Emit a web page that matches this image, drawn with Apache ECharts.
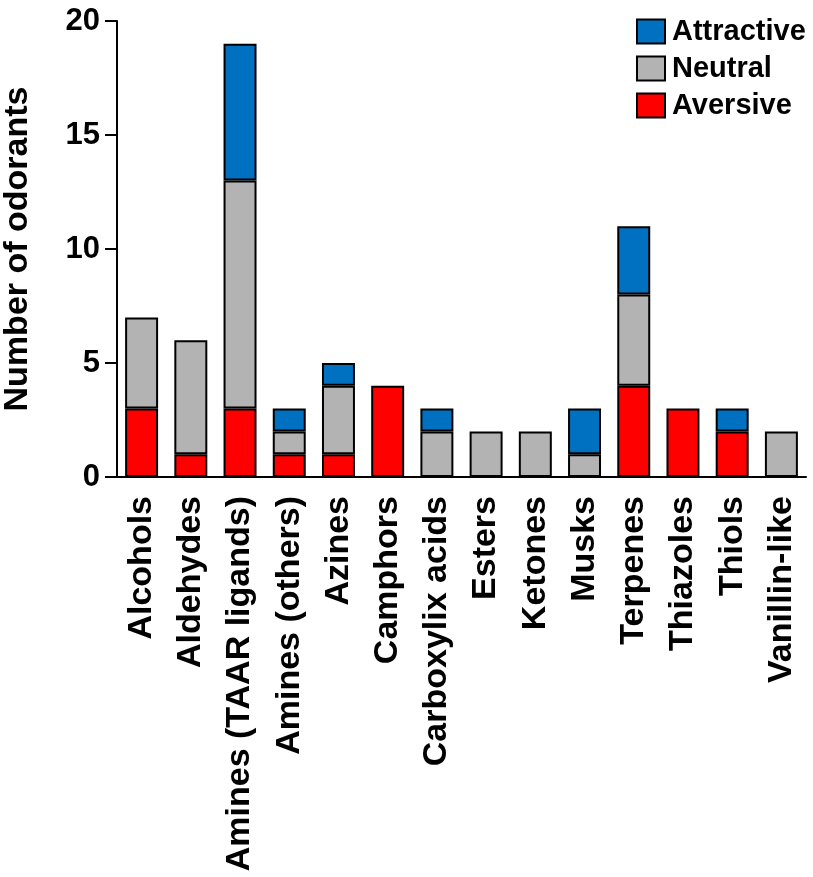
<!DOCTYPE html>
<html>
<head>
<meta charset="utf-8">
<script src="https://cdn.jsdelivr.net/npm/echarts@6/dist/echarts.min.js"></script>
<style>
  html, body { margin: 0; padding: 0; background: #fff; }
  #chart { width: 813px; height: 877px; }
</style>
</head>
<body>
<div id="chart"></div>
<script>
// categories
var categories = ['Alcohols', 'Aldehydes', 'Amines (TAAR ligands)', 'Amines (others)', 'Azines',
  'Camphors', 'Carboxylix acids', 'Esters', 'Ketones', 'Musks', 'Terpenes', 'Thiazoles', 'Thiols', 'Vanillin-like']
// stacked counts
var aversive   = [3, 1, 3, 1, 1, 4, 0, 0, 0, 0, 4, 3, 2, 0]
var neutral    = [4, 5, 10, 1, 3, 0, 2, 2, 2, 1, 4, 0, 0, 2]
var attractive = [0, 0, 6, 1, 1, 0, 1, 0, 0, 2, 3, 0, 1, 0]
var yTicks = [0, 5, 10, 15, 20]

var font = 'Liberation Sans, Arial, sans-serif'
var mychart = echarts.init(document.getElementById('chart'))

function barSeries (name, data, color) {
  return {
    name: name,
    type: 'bar',
    stack: 'total',
    barWidth: '67%',
    data: data.map(function (v) { return v === 0 ? null : v }),
    itemStyle: { color: color, borderColor: '#000', borderWidth: 2 },
    emphasis: { disabled: true }
  }
}

var option = {
  animation: false,
  grid: { left: 117, right: 7, top: 21, bottom: 400, containLabel: false, outerBoundsMode: 'none' },
  legend: {
    orient: 'vertical',
    left: 631,
    top: 12,
    icon: 'rect',
    itemWidth: 28,
    itemHeight: 24,
    itemGap: 8,
    itemStyle: { borderColor: '#000', borderWidth: 2 },
    textStyle: { fontFamily: font, fontWeight: 'bold', fontSize: 29, lineHeight: 24, color: '#000', padding: [0, 0, 0, 2] },
    data: ['Attractive', 'Neutral', 'Aversive']
  },
  xAxis: {
    type: 'category',
    data: categories,
    axisLine: { lineStyle: { color: '#000', width: 2 } },
    axisTick: { alignWithLabel: true, length: 12, lineStyle: { color: '#000', width: 2 } },
    axisLabel: {
      rotate: 90,
      interval: 0,
      margin: 19,
      fontFamily: font,
      fontWeight: 'bold',
      fontSize: 34,
      color: '#000'
    }
  },
  yAxis: {
    type: 'value',
    min: 0,
    max: 20,
    interval: 5,
    name: 'Number of odorants',
    nameLocation: 'middle',
    nameGap: 82,
    nameTextStyle: { fontFamily: font, fontWeight: 'bold', fontSize: 34, color: '#000' },
    axisLine: { show: true, lineStyle: { color: '#000', width: 2 } },
    axisTick: { show: true, length: 12, lineStyle: { color: '#000', width: 2 } },
    splitLine: { show: false },
    axisLabel: {
      margin: 17,
      fontFamily: font,
      fontWeight: 'bold',
      fontSize: 31,
      color: '#000',
      formatter: function (v) { return yTicks.indexOf(v) >= 0 ? String(v) : '' }
    }
  },
  series: [
    barSeries('Aversive', aversive, '#ff0000'),
    barSeries('Neutral', neutral, '#b3b3b3'),
    barSeries('Attractive', attractive, '#0070c0')
  ]
}
mychart.setOption(option)
</script>
</body>
</html>
